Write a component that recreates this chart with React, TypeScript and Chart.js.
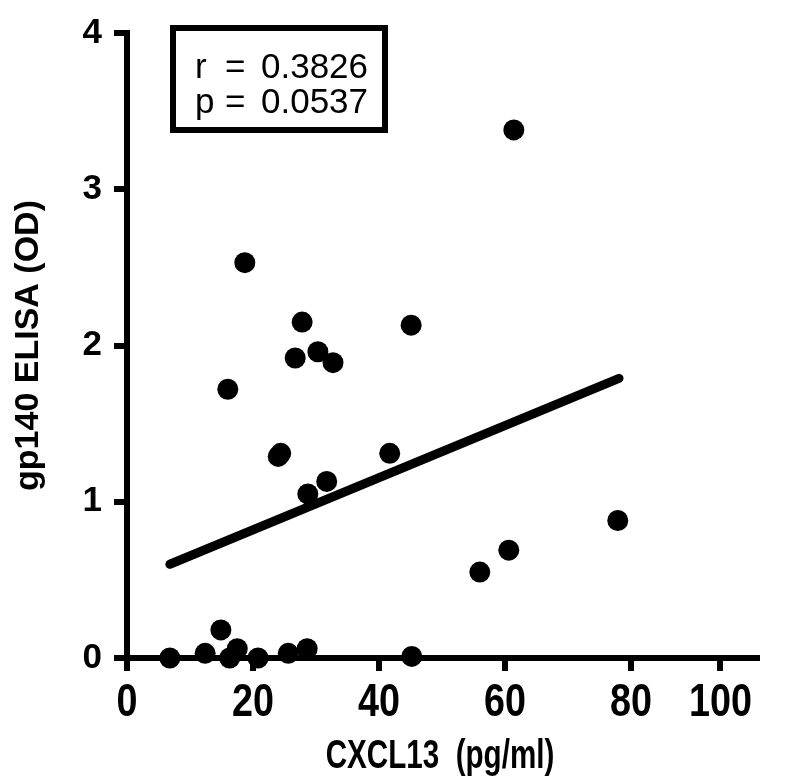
import React, { useEffect, useRef } from "react";
import { Chart, registerables } from "chart.js";

Chart.register(...registerables);

// CXCL13 (pg/ml) vs gp140 ELISA (OD)
const cxcl13 = [
  61.4, 18.7, 27.8, 45.1, 26.7, 30.3, 32.7, 16.0, 24.0, 24.4, 41.7, 31.7, 28.7,
  60.6, 56.0, 77.9, 14.9, 6.8, 12.4, 17.5, 16.3, 20.8, 25.6, 28.6, 45.2,
];
const gp140 = [
  3.38, 2.53, 2.15, 2.13, 1.92, 1.96, 1.89, 1.72, 1.29, 1.31, 1.31, 1.13, 1.05,
  0.69, 0.55, 0.88, 0.18, 0.0, 0.03, 0.06, 0.0, 0.0, 0.03, 0.06, 0.01,
];

// linear regression line end points
const fitX = [6.8, 78.1];
const fitY = [0.6, 1.79];

// x-axis ticks as printed on the figure (last tick sits short of the axis end)
const xTickValues = [0, 20, 40, 60, 80, 94.2];
const xTickLabels = ["0", "20", "40", "60", "80", "100"];
const yTickValues = [0, 1, 2, 3, 4];

const statLabels = ["r", "p"];
const statValues = ["0.3826", "0.0537"];

const xTitle = "CXCL13  (pg/ml)";
const yTitle = "gp140 ELISA (OD)";

export default function App() {
  const ref = useRef<HTMLCanvasElement | null>(null);

  useEffect(() => {
    if (!ref.current) return;

    // condensed bold tick labels and title for the x axis (figure uses a narrow typeface)
    const xLabels = {
      id: "xLabels",
      afterDraw(chart: any) {
        const ctx = chart.ctx;
        const xs = chart.scales.x;
        ctx.save();
        ctx.fillStyle = "#000000";
        ctx.textAlign = "center";
        ctx.textBaseline = "alphabetic";
        ctx.font = "bold 46px 'Liberation Sans', Arial, sans-serif";
        xTickValues.forEach((v, i) => {
          const px = xs.getPixelForValue(v);
          ctx.save();
          ctx.translate(px, xs.top + 58);
          ctx.scale(0.82, 1);
          ctx.fillText(xTickLabels[i], 0, 0);
          ctx.restore();
        });
        ctx.save();
        ctx.font = "bold 40px 'Liberation Sans', Arial, sans-serif";
        ctx.translate((xs.left + xs.right) / 2 - 2, xs.top + 110);
        ctx.scale(0.74, 1);
        ctx.fillText(xTitle, 0, 0);
        ctx.restore();
        ctx.restore();
      },
    };

    const statBox = {
      id: "statBox",
      afterDraw(chart: any) {
        const ctx = chart.ctx;
        const ca = chart.chartArea;
        const left = ca.left + 46;
        const top = ca.top - 5;
        const w = 212;
        const h = 102;
        ctx.save();
        ctx.fillStyle = "#ffffff";
        ctx.fillRect(left, top, w, h);
        ctx.strokeStyle = "#000000";
        ctx.lineWidth = 6;
        ctx.strokeRect(left, top, w, h);
        ctx.fillStyle = "#000000";
        ctx.font = "35px 'Liberation Sans', Arial, sans-serif";
        ctx.textBaseline = "alphabetic";
        ctx.textAlign = "left";
        statLabels.forEach((lab, i) => {
          const y = top + 50 + i * 35;
          ctx.fillText(lab, left + 22, y);
          ctx.fillText("=", left + 52, y);
          ctx.fillText(statValues[i], left + 88, y);
        });
        ctx.restore();
      },
    };

    const chart = new Chart(ref.current, {
      type: "scatter",
      data: {
        datasets: [
          {
            type: "line",
            data: fitX.map((x, i) => ({ x, y: fitY[i] })),
            borderColor: "#000000",
            borderWidth: 9,
            borderCapStyle: "round",
            pointRadius: 0,
            fill: false,
          } as any,
          {
            data: cxcl13.map((x, i) => ({ x, y: gp140[i] })),
            backgroundColor: "#000000",
            borderColor: "#000000",
            pointRadius: 10.5,
            pointHoverRadius: 10.5,
            borderWidth: 0,
            clip: false,
          } as any,
        ],
      },
      options: {
        responsive: false,
        animation: false,
        devicePixelRatio: 1,
        layout: { padding: { left: 0, top: 28, right: 41, bottom: 0 } },
        plugins: {
          legend: { display: false },
          tooltip: { enabled: false },
        },
        scales: {
          x: {
            type: "linear",
            position: "bottom",
            min: 0,
            max: 100,
            afterBuildTicks: (scale: any) => {
              scale.ticks = xTickValues.map((v) => ({ value: v }));
            },
            afterFit: (scale: any) => {
              scale.height = 126;
            },
            border: { display: true, color: "#000000", width: 6 },
            grid: {
              display: true,
              drawOnChartArea: false,
              drawTicks: true,
              tickLength: 13,
              color: "#000000",
              lineWidth: 6,
            },
            ticks: {
              display: false,
              autoSkip: false,
              callback: (_v: any, i: number) => xTickLabels[i],
            },
            title: { display: false, text: xTitle },
          },
          y: {
            type: "linear",
            position: "left",
            min: 0,
            max: 4,
            afterBuildTicks: (scale: any) => {
              scale.ticks = yTickValues.map((v) => ({ value: v }));
            },
            afterFit: (scale: any) => {
              scale.width = 127;
            },
            border: { display: true, color: "#000000", width: 6 },
            grid: {
              display: true,
              drawOnChartArea: false,
              drawTicks: true,
              tickLength: 13,
              color: "#000000",
              lineWidth: 6,
            },
            ticks: {
              autoSkip: false,
              padding: 12,
              color: "#000000",
              font: {
                family: "'Liberation Sans', Arial, sans-serif",
                weight: "bold",
                size: 35,
              },
              callback: (v: any) => String(v),
            },
            title: {
              display: true,
              text: yTitle,
              color: "#000000",
              font: {
                family: "'Liberation Sans', Arial, sans-serif",
                weight: "bold",
                size: 34,
              },
              padding: { top: 8, bottom: 8 },
            },
          },
        },
      },
      plugins: [xLabels, statBox],
    });

    return () => chart.destroy();
  }, []);

  return (
    <div style={{ position: "absolute", left: 0, top: 0, width: 798, height: 784, background: "#ffffff" }}>
      <canvas ref={ref} width={798} height={784} style={{ display: "block" }} />
    </div>
  );
}
